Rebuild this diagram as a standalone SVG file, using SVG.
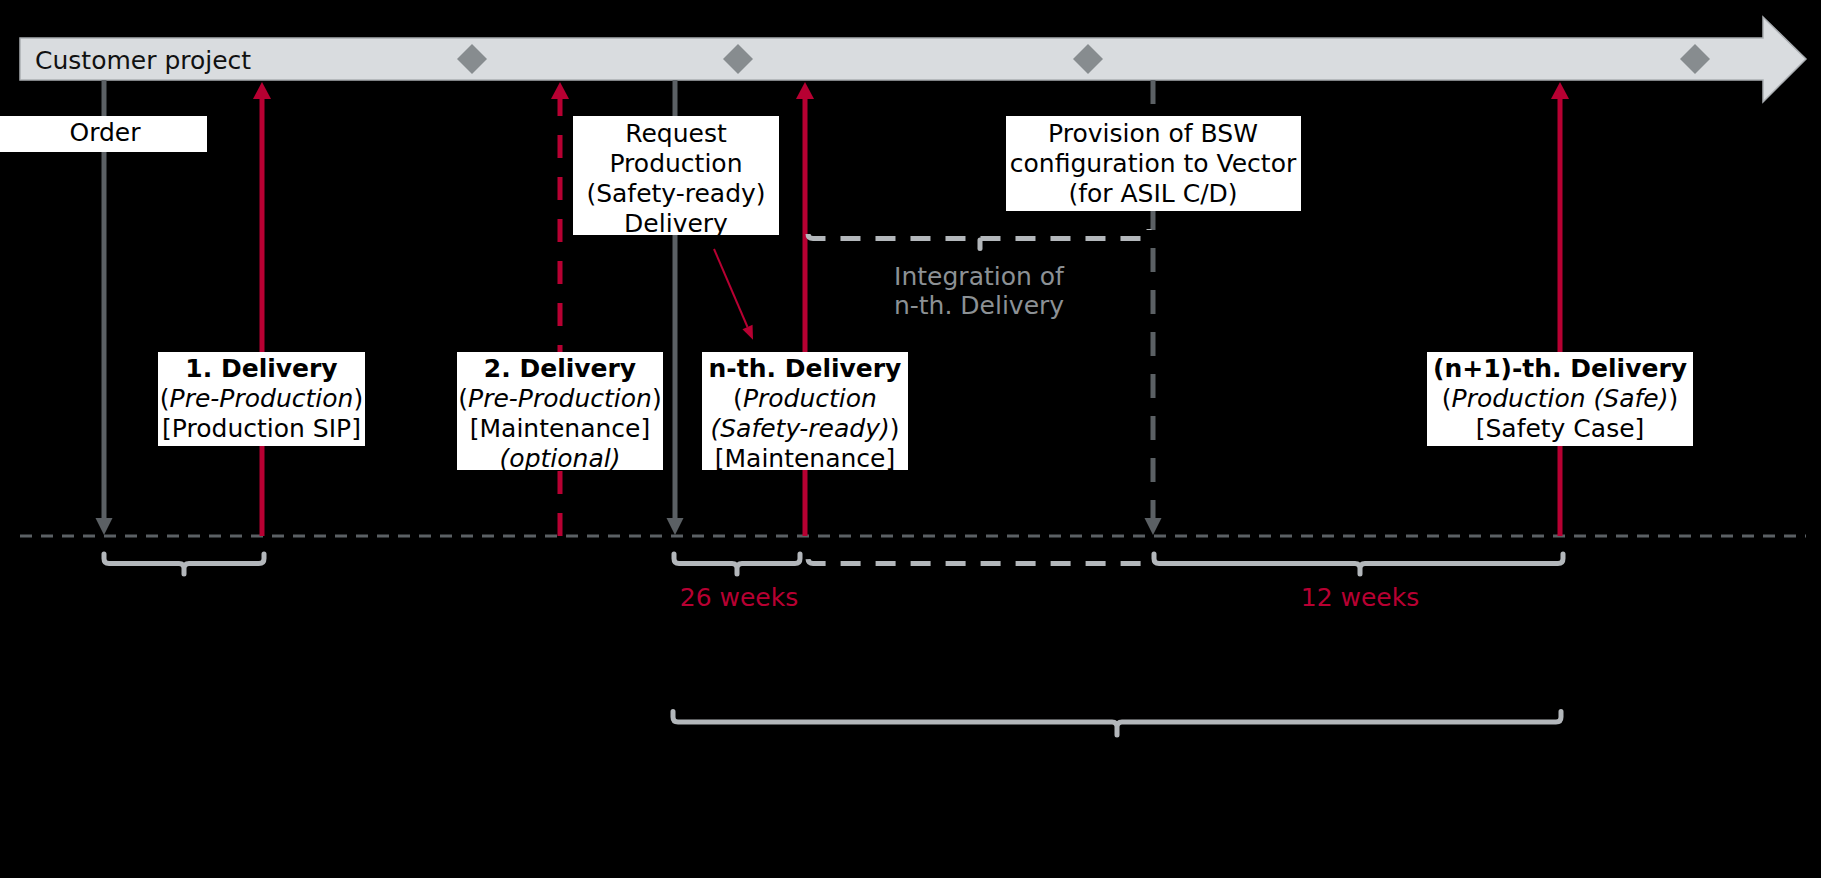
<svg xmlns="http://www.w3.org/2000/svg" width="1821" height="878" viewBox="0 0 1821 878">
<defs>
<style>
.bg{fill:#000}
.box{fill:#fff}
.t{font-family:"DejaVu Sans","Liberation Sans",sans-serif;font-size:25px;fill:#000;text-anchor:middle}
.b{font-weight:bold}
.i{font-style:italic}
.red{stroke:#b70032;stroke-width:5;fill:none}
.grey{stroke:#5b6064;stroke-width:5;fill:none}
.brace{stroke:#b3b7bb;stroke-width:5;fill:none;stroke-linecap:round;stroke-linejoin:round}
.dbrace{stroke:#b3b7bb;stroke-width:5;fill:none;stroke-dasharray:20 15}
.diamond{fill:#878c8f}
.weeks{font-family:"DejaVu Sans","Liberation Sans",sans-serif;font-size:25px;fill:#b70032;text-anchor:middle}
.integ{font-family:"DejaVu Sans","Liberation Sans",sans-serif;font-size:25px;fill:#8c9195;text-anchor:middle}
</style>
<marker id="ahRed" markerUnits="userSpaceOnUse" markerWidth="18" markerHeight="18" refX="0" refY="9" orient="auto" overflow="visible">
<path d="M0,0 L17,9 L0,18 z" fill="#b70032"/>
</marker>
<marker id="ahGrey" markerUnits="userSpaceOnUse" markerWidth="17" markerHeight="18" refX="0" refY="8.5" orient="auto" overflow="visible">
<path d="M0,0 L17,8.5 L0,17 z" fill="#5b6064"/>
</marker>
<marker id="ahSmall" markerUnits="userSpaceOnUse" markerWidth="14" markerHeight="12" refX="0" refY="5.5" orient="auto" overflow="visible">
<path d="M0,0 L14,5.5 L0,11 z" fill="#b70032"/>
</marker>
</defs>
<rect class="bg" x="0" y="0" width="1821" height="878"/>

<g id="timeline">
<polygon points="20,38 1763,38 1763,17 1806,59 1763,102 1763,80 20,80" fill="#d9dcdf" stroke="#aaaeb2" stroke-width="1.5"/>
<text x="35" y="69" font-family="DejaVu Sans, Liberation Sans, sans-serif" font-size="25" fill="#111">Customer project</text>
<polygon class="diamond" points="472,44 487,59 472,74 457,59"/>
<polygon class="diamond" points="738,44 753,59 738,74 723,59"/>
<polygon class="diamond" points="1088,44 1103,59 1088,74 1073,59"/>
<polygon class="diamond" points="1695,44 1710,59 1695,74 1680,59"/>
</g>

<g id="connectors">
<line x1="20" y1="536" x2="1806" y2="536" stroke="#5b6064" stroke-width="3" stroke-dasharray="12 9"/>
<line class="grey" x1="104" y1="80" x2="104" y2="518" marker-end="url(#ahGrey)"/>
<line class="grey" x1="675" y1="80" x2="675" y2="518" marker-end="url(#ahGrey)"/>
<line class="grey" x1="1153" y1="80" x2="1153" y2="518" stroke-dasharray="24 18" marker-end="url(#ahGrey)"/>
<line class="red" x1="262" y1="536" x2="262" y2="99" marker-end="url(#ahRed)"/>
<line class="red" x1="560" y1="536" x2="560" y2="99" stroke-dasharray="23 19" marker-end="url(#ahRed)"/>
<line class="red" x1="805" y1="536" x2="805" y2="99" marker-end="url(#ahRed)"/>
<line class="red" x1="1560" y1="536" x2="1560" y2="99" marker-end="url(#ahRed)"/>
<line x1="714" y1="249" x2="747.5" y2="327" stroke="#b70032" stroke-width="2" marker-end="url(#ahSmall)"/>
<path class="brace" d="M104,554 V558.5 Q104,563.5 109,563.5 H179 Q184,563.5 184,568.5 V574 M184,568.5 Q184,563.5 189,563.5 H259 Q264,563.5 264,558.5 V554"/>
<path class="brace" d="M674,554 V558.5 Q674,563.5 679,563.5 H732 Q737,563.5 737,568.5 V574 M737,568.5 Q737,563.5 742,563.5 H795 Q800,563.5 800,558.5 V554"/>
<path class="brace" d="M1154,554 V558.5 Q1154,563.5 1159,563.5 H1355 Q1360,563.5 1360,568.5 V574 M1360,568.5 Q1360,563.5 1365,563.5 H1558 Q1563,563.5 1563,558.5 V554"/>
<path class="brace" d="M673,711.5 V717 Q673,722 678,722 H1112 Q1117,722 1117,727 V735 M1117,727 Q1117,722 1122,722 H1556 Q1561,722 1561,717 V711.5"/>
<path class="dbrace" d="M808,234 Q808,238.5 813,238.5 H1144 Q1149,238.5 1149,233.5 V229"/>
<path class="brace" d="M980,240 V248.5"/>
<path class="dbrace" stroke-dashoffset="-5" d="M808,554 V558.5 Q808,563.5 813,563.5 H1150"/>
</g>

<g id="order">
<rect class="box" x="0" y="116" width="207" height="36"/>
<text class="t" x="105" y="141">Order</text>
</g>

<g id="request">
<rect class="box" x="573" y="116" width="206" height="119"/>
<text class="t" x="676" y="141.5">Request</text>
<text class="t" x="676" y="171.5">Production</text>
<text class="t" x="676" y="201.5">(Safety-ready)</text>
<text class="t" x="676" y="231.5">Delivery</text>
</g>

<g id="provision">
<rect class="box" x="1006" y="116" width="295" height="95"/>
<text class="t" x="1153" y="141.5">Provision of BSW</text>
<text class="t" x="1153" y="171.5">configuration to Vector</text>
<text class="t" x="1153" y="201.5">(for ASIL C/D)</text>
</g>

<g id="integration">
<text class="integ" x="979" y="284.5">Integration of</text>
<text class="integ" x="979" y="313.5">n-th. Delivery</text>
</g>

<g id="delivery1">
<rect class="box" x="158" y="352" width="207" height="94"/>
<text class="t b" x="261.5" y="376.5">1. Delivery</text>
<text class="t" x="261.5" y="406.5">(<tspan class="i">Pre-Production</tspan>)</text>
<text class="t" x="261.5" y="436.5">[Production SIP]</text>
</g>

<g id="delivery2">
<rect class="box" x="457" y="352" width="206" height="118"/>
<text class="t b" x="560" y="376.5">2. Delivery</text>
<text class="t" x="560" y="406.5">(<tspan class="i">Pre-Production</tspan>)</text>
<text class="t" x="560" y="436.5">[Maintenance]</text>
<text class="t i" x="560" y="466.5">(optional)</text>
</g>

<g id="deliveryN">
<rect class="box" x="702" y="352" width="206" height="118"/>
<text class="t b" x="805" y="376.5">n-th. Delivery</text>
<text class="t" x="805" y="406.5">(<tspan class="i">Production</tspan></text>
<text class="t" x="805" y="436.5"><tspan class="i">(Safety-ready)</tspan>)</text>
<text class="t" x="805" y="466.5">[Maintenance]</text>
</g>

<g id="deliveryN1">
<rect class="box" x="1427" y="352" width="266" height="94"/>
<text class="t b" x="1560" y="376.5">(n+1)-th. Delivery</text>
<text class="t" x="1560" y="406.5">(<tspan class="i">Production (Safe)</tspan>)</text>
<text class="t" x="1560" y="436.5">[Safety Case]</text>
</g>

<g id="durations">
<text class="weeks" x="739" y="606">26 weeks</text>
<text class="weeks" x="1360" y="606">12 weeks</text>
</g>
</svg>
